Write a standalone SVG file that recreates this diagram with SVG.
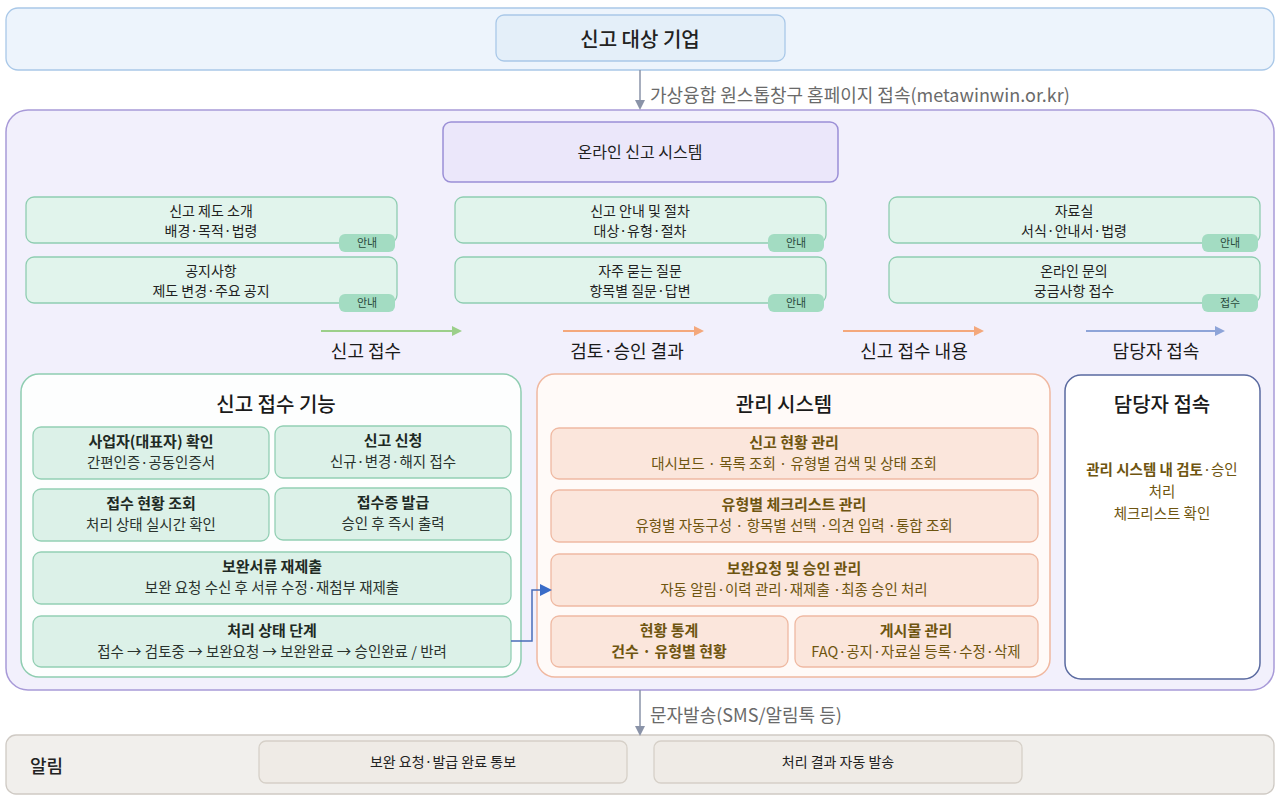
<svg xmlns="http://www.w3.org/2000/svg" width="1276" height="798" viewBox="0 0 1276 798">
<defs>
<style>
text{font-family:"Noto Sans CJK KR","Noto Sans",sans-serif;fill:#222;text-anchor:middle}
.band{fill:#edf4fc;stroke:#a9c8e8;stroke-width:1.3}
.gcard{fill:#e1f4ec;stroke:#8fcdb1;stroke-width:1.3}
.badge{fill:#a3dcc2}
.bt{font-size:11px;fill:#2a4a3c}
.ct{font-size:14px;fill:#222}
.gsub{fill:#dcf1e8;stroke:#93cfb4;stroke-width:1.3}
.osub{fill:#fbe6dc;stroke:#efb9a2;stroke-width:1.3}
.st{font-size:15px;font-weight:bold;fill:#1e2a24}
.sd{font-size:14.5px;fill:#2a332e}
.ot{font-size:15px;font-weight:bold;fill:#6e5510}
.od{font-size:14.5px;fill:#6e5510}
.ptitle{font-size:20px;font-weight:500;fill:#1a1a1a}
.flow{font-size:18px;fill:#1a1a1a}
.lbl{font-size:18px;fill:#6a6a6a;text-anchor:start}
.ab{fill:#efebe6;stroke:#d6d0c8;stroke-width:1.3}
</style>
<marker id="ag" markerWidth="10" markerHeight="10" refX="8" refY="5" orient="auto" markerUnits="userSpaceOnUse"><path d="M0,0 L10,5 L0,10 z" fill="#9ccf8a"/></marker>
<marker id="ao" markerWidth="10" markerHeight="10" refX="8" refY="5" orient="auto" markerUnits="userSpaceOnUse"><path d="M0,0 L10,5 L0,10 z" fill="#f4a87c"/></marker>
<marker id="ab" markerWidth="10" markerHeight="10" refX="8" refY="5" orient="auto" markerUnits="userSpaceOnUse"><path d="M0,0 L10,5 L0,10 z" fill="#8ea4d8"/></marker>
<marker id="ak" markerWidth="10" markerHeight="10" refX="8" refY="5" orient="auto" markerUnits="userSpaceOnUse"><path d="M0,0 L10,5 L0,10 z" fill="#8a93a8"/></marker>
<marker id="abl" markerWidth="12" markerHeight="12" refX="10" refY="6" orient="auto" markerUnits="userSpaceOnUse"><path d="M0,0 L12,6 L0,12 z" fill="#3a6cc8"/></marker>
</defs>
<rect width="1276" height="798" fill="#ffffff"/>

<g id="top-band">
<rect x="6" y="8" width="1268" height="62" rx="12" class="band"/>
<g id="n-company">
<rect x="496" y="15" width="289" height="46" rx="8" fill="#e4eff9" stroke="#a9c8e8" stroke-width="1.3"/>
<text x="640" y="47" style="font-size:20px;font-weight:500">신고 대상 기업</text>
</g>
</g>

<g id="main-box">
<rect x="6" y="110" width="1268" height="580" rx="22" fill="#f2f0fc" stroke="#a89ad8" stroke-width="1.5"/>
</g>

<g id="n-online">
<rect x="443" y="122" width="395" height="60" rx="8" fill="#ebe7fa" stroke="#9b8fd6" stroke-width="1.5"/>
<text x="640" y="158" style="font-size:16px">온라인 신고 시스템</text>
</g>

<g id="n-intro">
<rect x="26" y="197" width="371" height="46" rx="8" class="gcard"/>
<text x="211" y="216" class="ct">신고 제도 소개</text>
<text x="211" y="236" class="ct">배경·목적·법령</text>
<rect x="339" y="234" width="56" height="18" rx="6" class="badge"/><text x="367" y="247" class="bt">안내</text>
</g>
<g id="n-notice">
<rect x="26" y="257" width="371" height="46" rx="8" class="gcard"/>
<text x="211" y="276" class="ct">공지사항</text>
<text x="211" y="296" class="ct">제도 변경·주요 공지</text>
<rect x="339" y="294" width="56" height="18" rx="6" class="badge"/><text x="367" y="307" class="bt">안내</text>
</g>
<g id="n-guide">
<rect x="455" y="197" width="371" height="46" rx="8" class="gcard"/>
<text x="640" y="216" class="ct">신고 안내 및 절차</text>
<text x="640" y="236" class="ct">대상·유형·절차</text>
<rect x="768" y="234" width="56" height="18" rx="6" class="badge"/><text x="796" y="247" class="bt">안내</text>
</g>
<g id="n-faq">
<rect x="455" y="257" width="371" height="46" rx="8" class="gcard"/>
<text x="640" y="276" class="ct">자주 묻는 질문</text>
<text x="640" y="296" class="ct">항목별 질문·답변</text>
<rect x="768" y="294" width="56" height="18" rx="6" class="badge"/><text x="796" y="307" class="bt">안내</text>
</g>
<g id="n-library">
<rect x="889" y="197" width="371" height="46" rx="8" class="gcard"/>
<text x="1074" y="216" class="ct">자료실</text>
<text x="1074" y="236" class="ct">서식·안내서·법령</text>
<rect x="1202" y="234" width="56" height="18" rx="6" class="badge"/><text x="1230" y="247" class="bt">안내</text>
</g>
<g id="n-inquiry">
<rect x="889" y="257" width="371" height="46" rx="8" class="gcard"/>
<text x="1074" y="276" class="ct">온라인 문의</text>
<text x="1074" y="296" class="ct">궁금사항 접수</text>
<rect x="1202" y="294" width="56" height="18" rx="6" class="badge"/><text x="1230" y="307" class="bt">접수</text>
</g>

<g id="flow-labels">
<text x="366" y="358" class="flow">신고 접수</text>
<text x="627" y="358" class="flow">검토·승인 결과</text>
<text x="914" y="358" class="flow">신고 접수 내용</text>
<text x="1156" y="358" class="flow">담당자 접속</text>
</g>

<g id="p-reception">
<rect x="21" y="374" width="500" height="303" rx="18" fill="#fdfefe" stroke="#8fcdb1" stroke-width="1.5"/>
<text x="276" y="412" class="ptitle">신고 접수 기능</text>
<g id="n-verify"><rect x="33" y="427" width="236" height="52" rx="8" class="gsub"/>
<text x="151" y="447" class="st">사업자(대표자) 확인</text><text x="151" y="468" class="sd">간편인증·공동인증서</text></g>
<g id="n-apply"><rect x="275" y="426" width="236" height="52" rx="8" class="gsub"/>
<text x="393" y="446" class="st">신고 신청</text><text x="393" y="467" class="sd">신규·변경·해지 접수</text></g>
<g id="n-status"><rect x="33" y="489" width="236" height="52" rx="8" class="gsub"/>
<text x="151" y="509" class="st">접수 현황 조회</text><text x="151" y="530" class="sd">처리 상태 실시간 확인</text></g>
<g id="n-cert"><rect x="275" y="488" width="236" height="52" rx="8" class="gsub"/>
<text x="393" y="508" class="st">접수증 발급</text><text x="393" y="529" class="sd">승인 후 즉시 출력</text></g>
<g id="n-resubmit"><rect x="33" y="552" width="478" height="52" rx="8" class="gsub"/>
<text x="272" y="572" class="st">보완서류 재제출</text><text x="272" y="593" class="sd">보완 요청 수신 후 서류 수정·재첨부 재제출</text></g>
<g id="n-stage"><rect x="33" y="616" width="478" height="51" rx="8" class="gsub"/>
<text x="272" y="636" class="st">처리 상태 단계</text><text x="272" y="657" class="sd">접수 → 검토중 → 보완요청 → 보완완료 → 승인완료 / 반려</text></g>
</g>

<g id="p-admin">
<rect x="537" y="374" width="513" height="303" rx="18" fill="#fffaf8" stroke="#f0b8a0" stroke-width="1.5"/>
<text x="784" y="412" class="ptitle">관리 시스템</text>
<g id="n-manage"><rect x="551" y="428" width="487" height="51" rx="8" class="osub"/>
<text x="794" y="448" class="ot">신고 현황 관리</text><text x="794" y="469" class="od">대시보드 · 목록 조회 · 유형별 검색 및 상태 조회</text></g>
<g id="n-checklist"><rect x="551" y="490" width="487" height="52" rx="8" class="osub"/>
<text x="794" y="510" class="ot">유형별 체크리스트 관리</text><text x="794" y="531" class="od">유형별 자동구성 · 항목별 선택 ·의견 입력 ·통합 조회</text></g>
<g id="n-approve"><rect x="551" y="554" width="487" height="52" rx="8" class="osub"/>
<text x="794" y="574" class="ot">보완요청 및 승인 관리</text><text x="794" y="595" class="od">자동 알림·이력 관리·재제출 ·최종 승인 처리</text></g>
<g id="n-stats"><rect x="551" y="616" width="237" height="51" rx="8" class="osub"/>
<text x="669" y="636" class="ot">현황 통계</text><text x="669" y="657" class="ot" style="font-weight:600">건수 · 유형별 현황</text></g>
<g id="n-board"><rect x="795" y="616" width="243" height="51" rx="8" class="osub"/>
<text x="916" y="636" class="ot">게시물 관리</text><text x="916" y="657" class="od">FAQ·공지·자료실 등록·수정·삭제</text></g>
</g>

<g id="p-officer">
<rect x="1065" y="375" width="195" height="304" rx="16" fill="#ffffff" stroke="#5a6aa0" stroke-width="1.5"/>
<text x="1162" y="412" class="ptitle">담당자 접속</text>
<text x="1162" y="475" style="font-size:14.5px;fill:#6e5510"><tspan font-weight="bold">관리 시스템 내 검토</tspan>·승인</text>
<text x="1162" y="497" style="font-size:14.5px;fill:#6e5510">처리</text>
<text x="1162" y="519" style="font-size:14.5px;fill:#6e5510">체크리스트 확인</text>
</g>

<g id="bottom-band">
<rect x="6" y="735" width="1268" height="59" rx="10" fill="#f1efec" stroke="#cfcac4" stroke-width="1.3"/>
<text x="30" y="773" style="font-size:18px;font-weight:500;text-anchor:start">알림</text>
<g id="n-notify1"><rect x="259" y="741" width="368" height="42" rx="7" class="ab"/>
<text x="443" y="767" class="ct">보완 요청·발급 완료 통보</text></g>
<g id="n-notify2"><rect x="654" y="741" width="368" height="42" rx="7" class="ab"/>
<text x="838" y="767" class="ct">처리 결과 자동 발송</text></g>
</g>

<g id="connectors" fill="none">
<line x1="640" y1="70" x2="640" y2="108" stroke="#8a93a8" stroke-width="1.5" marker-end="url(#ak)"/>
<line x1="640" y1="690" x2="640" y2="734" stroke="#8a93a8" stroke-width="1.5" marker-end="url(#ak)"/>
<line x1="321" y1="331" x2="460" y2="331" stroke="#9ccf8a" stroke-width="2" marker-end="url(#ag)"/>
<line x1="563" y1="331" x2="702" y2="331" stroke="#f4a87c" stroke-width="2" marker-end="url(#ao)"/>
<line x1="843" y1="331" x2="982" y2="331" stroke="#f4a87c" stroke-width="2" marker-end="url(#ao)"/>
<line x1="1086" y1="331" x2="1223" y2="331" stroke="#8ea4d8" stroke-width="2" marker-end="url(#ab)"/>
<polyline points="511,641 532,641 532,590 550,590" stroke="#4a6cb8" stroke-width="1.5" marker-end="url(#abl)"/>
</g>
<g id="connector-labels">
<text x="650" y="102" class="lbl">가상융합 원스톱창구 홈페이지 접속(metawinwin.or.kr)</text>
<text x="650" y="722" class="lbl">문자발송(SMS/알림톡 등)</text>
</g>
</svg>
